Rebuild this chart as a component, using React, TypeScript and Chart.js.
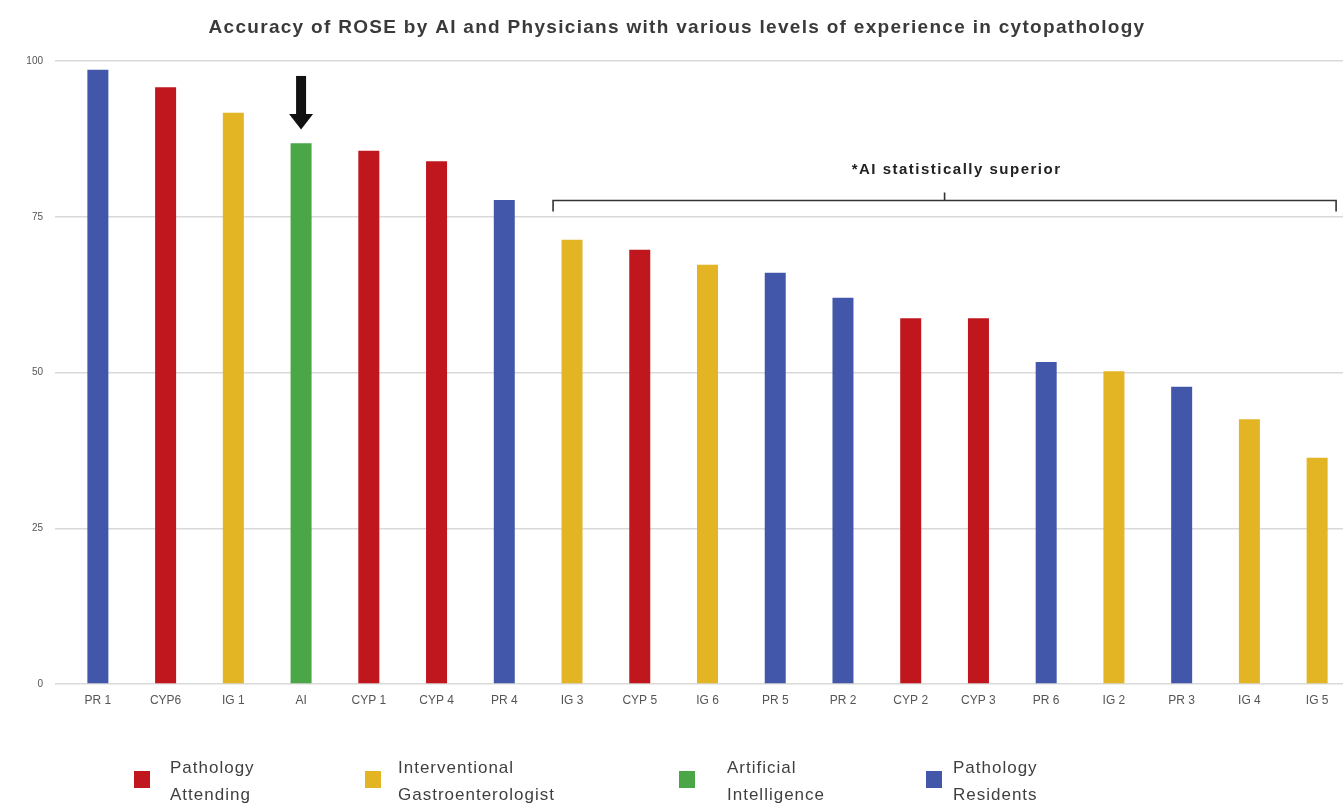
import React, { useEffect, useRef } from "react";
import { Chart, registerables } from "chart.js";

Chart.register(...registerables);

// ---- data ----
const categories = ["PR 1", "CYP6", "IG 1", "AI", "CYP 1", "CYP 4", "PR 4", "IG 3", "CYP 5", "IG 6", "PR 5", "PR 2", "CYP 2", "CYP 3", "PR 6", "IG 2", "PR 3", "IG 4", "IG 5"];
const accuracy = [98.6, 95.8, 91.7, 86.8, 85.6, 83.9, 77.7, 71.3, 69.7, 67.3, 66.0, 62.0, 58.7, 58.7, 51.7, 50.2, 47.7, 42.5, 36.3];
// 0 = Pathology Attending, 1 = Interventional Gastroenterologist, 2 = AI, 3 = Pathology Residents
const groupOfCategory = [3, 0, 1, 2, 0, 0, 3, 1, 0, 1, 3, 3, 0, 0, 3, 1, 3, 1, 1];
const groupNames = [
  ["Pathology", "Attending"],
  ["Interventional", "Gastroenterologist"],
  ["Artificial", "Intelligence"],
  ["Pathology", "Residents"],
];
const groupColors = ["#C0161E", "#E3B424", "#4AA646", "#4357AA"];
const yTicks = [0, 25, 50, 75, 100];
const titleText = "Accuracy of ROSE by AI and Physicians with various levels of experience in cytopathology";
const noteText = "*AI statistically superior";
const bracketFrom = 7;
const bracketTo = 18;
const bracketValue = 77.6;
const noteValue = 82.6;
const arrowIndex = 3;
const arrowTop = 97.6;
const arrowHeadStart = 91.5;
const arrowTip = 89.0;

const FONT = "'Liberation Sans', Arial, sans-serif";

const overlayPlugin = {
  id: "overlay",
  afterDraw(chart: any) {
    const ctx = chart.ctx as any;
    const x = chart.scales.x;
    const y = chart.scales.y;
    ctx.save();

    // title
    ctx.fillStyle = "#3a3a3a";
    ctx.font = `bold 19px ${FONT}`;
    ctx.letterSpacing = "1.3px";
    ctx.textAlign = "center";
    ctx.textBaseline = "middle";
    ctx.fillText(titleText, 677, 28);

    // arrow above AI
    const ax = x.getPixelForValue(arrowIndex);
    const yTop = y.getPixelForValue(arrowTop);
    const yHead = y.getPixelForValue(arrowHeadStart);
    const yTip = y.getPixelForValue(arrowTip);
    ctx.fillStyle = "#111111";
    ctx.fillRect(ax - 5, yTop, 10, yHead - yTop + 1);
    ctx.beginPath();
    ctx.moveTo(ax - 12, yHead);
    ctx.lineTo(ax + 12, yHead);
    ctx.lineTo(ax, yTip);
    ctx.closePath();
    ctx.fill();

    // bracket
    const half = (x.getPixelForValue(1) - x.getPixelForValue(0)) * 0.28;
    const bx1 = x.getPixelForValue(bracketFrom) - half;
    const bx2 = x.getPixelForValue(bracketTo) + half;
    const by = y.getPixelForValue(bracketValue);
    const mid = (bx1 + bx2) / 2;
    ctx.strokeStyle = "#333333";
    ctx.lineWidth = 1.6;
    ctx.beginPath();
    ctx.moveTo(bx1, by + 11);
    ctx.lineTo(bx1, by);
    ctx.lineTo(bx2, by);
    ctx.lineTo(bx2, by + 11);
    ctx.moveTo(mid, by);
    ctx.lineTo(mid, by - 8);
    ctx.stroke();

    // note
    ctx.fillStyle = "#222222";
    ctx.font = `bold 15px ${FONT}`;
    ctx.letterSpacing = "1.5px";
    ctx.textAlign = "center";
    ctx.fillText(noteText, mid + 12, y.getPixelForValue(noteValue));

    // legend
    const squareX = [142, 373, 687, 934];
    const textX = [170, 398, 727, 953];
    ctx.font = `17px ${FONT}`;
    ctx.letterSpacing = "1px";
    ctx.textAlign = "left";
    groupNames.forEach((lines, i) => {
      ctx.fillStyle = groupColors[i];
      ctx.fillRect(squareX[i] - 8, 771, 16, 17);
      ctx.fillStyle = "#3f3f3f";
      ctx.fillText(lines[0], textX[i], 768);
      ctx.fillText(lines[1], textX[i], 795);
    });
    ctx.restore();
  },
};

export default function App() {
  const ref = useRef<HTMLCanvasElement | null>(null);
  useEffect(() => {
    if (!ref.current) return;
    const chart = new Chart(ref.current, {
      type: "bar",
      data: {
        labels: categories,
        datasets: [
          {
            data: accuracy,
            backgroundColor: groupOfCategory.map((g) => groupColors[g]),
            borderWidth: 0,
            barPercentage: 0.31,
            categoryPercentage: 1,
          },
        ],
      },
      options: {
        responsive: false,
        animation: false,
        layout: { padding: { top: 61, right: 1, bottom: 99, left: 0 } },
        plugins: {
          legend: { display: false },
          title: { display: false },
          tooltip: { enabled: false },
        },
        scales: {
          x: {
            grid: { display: false, drawTicks: false },
            border: { display: false },
            ticks: {
              autoSkip: false,
              maxRotation: 0,
              padding: 9,
              color: "#555555",
              font: { family: FONT, size: 12 },
            },
            afterFit: (s: any) => {
              s.height = 26;
            },
          },
          y: {
            min: 0,
            max: 100,
            afterBuildTicks: (s: any) => {
              s.ticks = yTicks.map((v) => ({ value: v }));
            },
            grid: { color: "#d9d9d9", lineWidth: 1.5, tickLength: 9, tickColor: "#d9d9d9" },
            border: { display: false },
            ticks: {
              padding: 12,
              color: "#555555",
              font: { family: FONT, size: 10 },
            },
            afterFit: (s: any) => {
              s.width = 64;
            },
          },
        },
      },
      plugins: [overlayPlugin],
    });
    return () => chart.destroy();
  }, []);

  return (
    <div
      style={{
        position: "fixed",
        left: 0,
        top: 0,
        width: 1343,
        height: 809,
        overflow: "hidden",
        background: "#ffffff",
      }}
    >
      <canvas ref={ref} width={1352} height={809} style={{ width: 1352, height: 809, display: "block" }} />
    </div>
  );
}
